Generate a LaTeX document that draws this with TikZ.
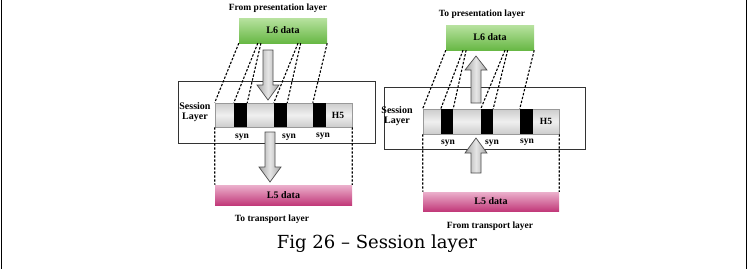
\documentclass[tikz,border=0pt]{standalone}
\usepackage{fontspec}
\setmainfont{Liberation Serif}
\newfontfamily\capfont{DejaVu Serif}
\usetikzlibrary{calc}
\definecolor{grtop}{HTML}{B8E2A0}
\definecolor{grbot}{HTML}{68B845}
\definecolor{pktop}{HTML}{EBB0CC}
\definecolor{pkbot}{HTML}{C23A7A}
\tikzset{
  lbl/.style={font=\bfseries\fontsize{9.5}{10}\selectfont, inner sep=0pt, align=center},
  greenbox/.style={minimum width=88, minimum height=25, inner sep=0pt, top color=grtop, bottom color=grbot, font=\bfseries\fontsize{10}{11}\selectfont},
  pinkbox/.style={minimum width=137, minimum height=20, inner sep=0pt, top color=pktop, bottom color=pkbot, font=\bfseries\fontsize{10}{11}\selectfont},
  framebox/.style={draw=black!80, line width=0.8pt, inner sep=0pt},
  barbox/.style={draw=gray!80, line width=0.6pt, minimum width=137, minimum height=24, inner sep=0pt, top color=gray!40, bottom color=gray!40, middle color=gray!12},
  synblock/.style={fill=black, minimum width=13, minimum height=24, inner sep=0pt},
  dline/.style={dash pattern=on 2.4pt off 1.6pt, line width=1.1pt},
  blockarrow/.style={draw=gray!60!black, line width=0.7pt, left color=gray!70, right color=gray!70, middle color=gray!20},
}
\begin{document}
\begin{tikzpicture}[x=1pt,y=-1pt]
\useasboundingbox (0,0) rectangle (748,269);
% page edges
\draw[line width=1pt] (1.5,0) -- (1.5,269);
\draw[line width=1pt] (746.5,0) -- (746.5,269);

% ---------------- sending side ----------------
\node[lbl] (fromP) at (278,8) {From presentation layer};
\node[greenbox] (l6a) at (283,30.5) {L6 data};
\node[framebox, minimum width=197, minimum height=62] (sesa) at (276.5,112) {};
\node[barbox] (bara) at (283.5,115) {};
\node[synblock] (ba1) at (240.5,115) {};
\node[synblock] (ba2) at (280.5,115) {};
\node[synblock] (ba3) at (319.5,115) {};
\node[lbl] (h5a) at (338,115) {H5};
\node[lbl, font=\bfseries\fontsize{10}{10}\selectfont] (sla) at (195,112) {Session\\Layer};
\node[lbl] (sa1) at (242,137) {syn};
\node[lbl] (sa2) at (289,137) {syn};
\node[lbl] (sa3) at (323,136) {syn};
\node[pinkbox] (l5a) at (283.5,195) {L5 data};
\node[lbl] (toT) at (272,219) {To transport layer};

% fan-out of the L6 data into the segmented bar
\draw[dline] (l6a.south west) -- (bara.north west);
\draw[dline] ($(l6a.south west)!0.215!(l6a.south east)$) -- (ba1.north west);
\draw[dline] ($(l6a.south west)!0.25!(l6a.south east)$) -- (ba1.north east);
\draw[dline] ($(l6a.south west)!0.67!(l6a.south east)$) -- (ba2.north west);
\draw[dline] ($(l6a.south west)!0.70!(l6a.south east)$) -- (ba2.north east);
\draw[dline] (l6a.south east) -- (ba3.north west);
\draw[dline] (bara.south west) -- (l5a.north west);
\draw[dline] (bara.south east) -- (l5a.north east);

% downward flow arrows
\shade[blockarrow] (263,50) -- (273,50) -- (273,85) -- (279,85) -- (268,100) -- (257,85) -- (263,85) -- cycle;
\shade[blockarrow] (265,132) -- (275,132) -- (275,167) -- (281,167) -- (270,182) -- (259,167) -- (265,167) -- cycle;

% ---------------- receiving side ----------------
\node[lbl] (toP) at (482,14) {To presentation layer};
\node[greenbox] (l6b) at (490,37.5) {L6 data};
\node[framebox, minimum width=201, minimum height=62] (sesb) at (484.5,118) {};
\node[barbox, minimum width=136, minimum height=25] (barb) at (491,121.5) {};
\node[synblock, minimum height=25, minimum width=12] (bb1) at (447,121.5) {};
\node[synblock, minimum height=25, minimum width=12] (bb2) at (487,121.5) {};
\node[synblock, minimum height=25] (bb3) at (526.5,121.5) {};
\node[lbl] (h5b) at (546,121.5) {H5};
\node[lbl, font=\bfseries\fontsize{10}{10}\selectfont] (slb) at (397,116) {Session\\Layer};
\node[lbl] (sb1) at (448,143) {syn};
\node[lbl] (sb2) at (492,143) {syn};
\node[lbl] (sb3) at (527,142) {syn};
\node[pinkbox, minimum width=136, minimum height=19] (l5b) at (491,201.5) {L5 data};
\node[lbl] (fromT) at (490,226) {From transport layer};

\draw[dline] (l6b.south west) -- (barb.north west);
\draw[dline] ($(l6b.south west)!0.195!(l6b.south east)$) -- (bb1.north west);
\draw[dline] ($(l6b.south west)!0.23!(l6b.south east)$) -- (bb1.north east);
\draw[dline] ($(l6b.south west)!0.67!(l6b.south east)$) -- (bb2.north west);
\draw[dline] ($(l6b.south west)!0.70!(l6b.south east)$) -- (bb2.north east);
\draw[dline] (l6b.south east) -- (bb3.north west);
\draw[dline] (barb.south west) -- (l5b.north west);
\draw[dline] (barb.south east) -- (l5b.north east);

% upward flow arrows
\shade[blockarrow] (471,103) -- (481,103) -- (481,70) -- (487,70) -- (476,56) -- (465,70) -- (471,70) -- cycle;
\shade[blockarrow] (471,173) -- (481,173) -- (481,153) -- (487,153) -- (476,138) -- (465,153) -- (471,153) -- cycle;

% caption
\node[inner sep=0pt, font=\capfont\fontsize{18}{19}\selectfont] (cap) at (377,244) {Fig 26 – Session layer};
\end{tikzpicture}
\end{document}
